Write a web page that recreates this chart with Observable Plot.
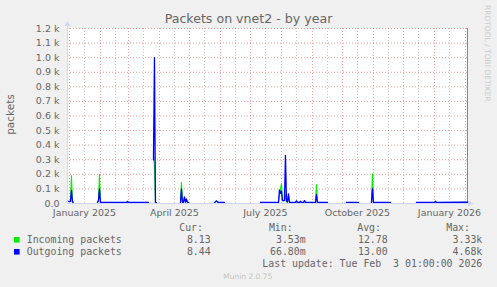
<!DOCTYPE html>
<html><head><meta charset="utf-8">
<script src="https://cdn.jsdelivr.net/npm/d3@7"></script>
<script src="https://cdn.jsdelivr.net/npm/@observablehq/plot@0.6"></script>
<style>html,body{margin:0;padding:0;background:#f0f0f0;} svg{display:block}</style>
</head><body><div id="chart"></div>
<script>
const title = "Packets on vnet2 - by year";
const yLabel = "packets";
const watermark = "RRDTOOL / TOBI OETIKER";
const footer = "Munin 2.0.75";
const lastUpdate = "Last update: Tue Feb  3 01:00:00 2026";

const rangeStart = "2024-12-30T01:00:00Z";
const rangeEnd = "2026-02-03T01:00:00Z";

const dates = [
"2024-12-30","2025-01-02","2025-01-03","2025-01-04","2025-01-05","2025-01-06",
"2025-01-29","2025-01-30","2025-01-31","2025-02-01","2025-02-27","2025-02-28","2025-03-01","2025-03-21","2025-03-22",
"2025-03-26","2025-03-27","2025-03-28","2025-03-29","2025-03-30",
"2025-04-22","2025-04-23","2025-04-24","2025-04-25","2025-04-26","2025-04-27","2025-04-28","2025-04-29","2025-04-30","2025-05-01",
"2025-05-26","2025-05-28","2025-05-29","2025-05-30","2025-06-05","2025-06-06",
"2025-07-11","2025-07-29","2025-07-30","2025-07-31","2025-08-01","2025-08-02","2025-08-03","2025-08-04","2025-08-05","2025-08-06","2025-08-07","2025-08-08","2025-08-09","2025-08-15","2025-08-16","2025-08-17","2025-08-19","2025-08-20","2025-08-21","2025-08-23","2025-08-24","2025-08-25","2025-09-04","2025-09-05","2025-09-06","2025-09-16","2025-09-17",
"2025-10-05","2025-10-17","2025-10-18",
"2025-10-30","2025-10-31","2025-11-01","2025-11-18","2025-11-19",
"2025-12-14","2026-01-01","2026-01-02","2026-01-03","2026-02-03"
];
const incoming = [
14,14,190,10,10,null,
8,20,200,7,7,14,7,7,null,
330,250,5,5,null,
5,146,8,8,40,10,30,7,7,null,
5,18,12,7,7,null,
7,7,60,100,137,30,20,20,60,10,10,50,8,7,18,7,7,15,7,7,20,7,7,130,7,7,null,
7,7,null,
7,204,8,7,null,
7,7,15,7,8.13
];
const outgoing = [
14,14,90,10,10,null,
8,20,100,7,7,14,7,7,null,
300,1000,5,5,null,
5,100,8,8,45,10,30,7,7,null,
5,18,12,7,7,null,
7,7,94,70,85,20,20,20,330,20,10,66,8,7,18,7,7,15,7,7,20,7,7,60,7,7,null,
7,7,null,
7,100,8,7,null,
7,7,15,7,8.44
];

const yTicks = [0,100,200,300,400,500,600,700,800,900,1000,1100,1200];
const xLabelDates = ["2025-01-16","2025-04-16","2025-07-16","2025-10-16","2026-01-16"];
const xLabels = ["January 2025","April 2025","July 2025","October 2025","January 2026"];

const seriesNames = ["Incoming packets","Outgoing packets"];
const seriesColors = ["#00ee00","#0000ff"];
const statHeaders = ["Cur:","Min:","Avg:","Max:"];
const statIncoming = ["8.13","3.53m","12.78","3.33k"];
const statOutgoing = ["8.44","66.80m","13.00","4.68k"];

const parse = s => new Date(s.length === 10 ? s + "T00:00:00Z" : s);
const data = dates.map((d, i) => ({date: parse(d), inc: incoming[i], out: outgoing[i]}));
const x0 = parse(rangeStart), x1 = parse(rangeEnd);
const monthStarts = d3.utcMonth.range(d3.utcMonth.ceil(x0), x1);
const midMonths = d3.utcMonth.range(d3.utcMonth.floor(x0), x1).map(d => d3.utcDay.offset(d, 15)).filter(d => d >= x0 && d <= x1);
const labelMap = new Map(xLabelDates.map((d, i) => [+parse(d), xLabels[i]]));
const yFmt = d => d === 0 ? "0.0" : (d / 1000).toFixed(1) + " k";

const MGRID = "rgba(222,79,79,0.55)";
const GRID = "rgba(143,143,143,0.55)";
const AXIS = "#CFD6F8";

const plot = Plot.plot({
  width: 497, height: 287,
  marginLeft: 67, marginRight: 30, marginTop: 28, marginBottom: 84,
  style: {background: "#f0f0f0", color: "#666", fontFamily: "DejaVu Sans", fontSize: "9.5px"},
  x: {type: "utc", domain: [x0, x1], axis: null},
  y: {domain: [0, 1200], axis: null},
  marks: [
    Plot.frame({fill: "white", stroke: null}),
    Plot.ruleX(midMonths, {stroke: GRID, strokeDasharray: "1,2"}),
    Plot.ruleX(monthStarts, {stroke: MGRID, strokeDasharray: "1,2"}),
    Plot.ruleY(yTicks.filter(d => d > 0), {stroke: MGRID, strokeDasharray: "1,2"}),
    Plot.ruleX([x1], {stroke: "#888"}),
    Plot.line(data, {x: "date", y: "inc", stroke: seriesColors[0], strokeWidth: 1.1}),
    Plot.line(data, {x: "date", y: "out", stroke: seriesColors[1], strokeWidth: 1.3}),
    Plot.axisY({ticks: yTicks, tickFormat: yFmt, tickSize: 0, tickPadding: 8}),
    Plot.axisX({ticks: xLabelDates.map(parse), tickFormat: d => labelMap.get(+d), tickSize: 0, tickPadding: 5.5})
  ]
});

const svg = d3.select(plot);
const xs = plot.scale("x"), ys = plot.scale("y");
const L = xs.apply(x0), R = xs.apply(x1), B = ys.apply(0), T = ys.apply(1200);

// axes + arrows
svg.append("line").attr("x1", L).attr("x2", R + 3).attr("y1", B + 0.5).attr("y2", B + 0.5).attr("stroke", AXIS);
svg.append("line").attr("x1", L + 0.5).attr("x2", L + 0.5).attr("y1", B).attr("y2", T - 3).attr("stroke", AXIS);
svg.append("path").attr("d", `M${R + 1},${B - 2.5}L${R + 6.5},${B + 0.5}L${R + 1},${B + 3.5}Z`).attr("fill", AXIS);
svg.append("path").attr("d", `M${L - 2.5},${T - 2}L${L + 0.5},${T - 7}L${L + 3.5},${T - 2}Z`).attr("fill", AXIS);

// title, y label, watermark
svg.append("text").attr("x", 248.5).attr("y", 23).attr("text-anchor", "middle")
  .attr("font-size", 12.6).attr("fill", "#666").text(title);
svg.append("text").attr("transform", "translate(14,114.5) rotate(-90)").attr("text-anchor", "middle")
  .attr("font-size", 10.5).attr("fill", "#666").text(yLabel);
svg.append("text").attr("transform", "translate(485,5) rotate(90)").attr("text-anchor", "start")
  .attr("font-size", 7.5).attr("fill", "#ccc").text(watermark);

// legend
const mono = "DejaVu Sans Mono";
const hdrX = [203, 292.7, 381, 470];
const valX = [210.7, 305.7, 387.7, 482.3];
const g = svg.append("g").attr("font-family", mono).attr("font-size", 9.9).attr("fill", "#666")
  .attr("text-anchor", "start").style("white-space", "pre");
statHeaders.forEach((h, i) => g.append("text").attr("x", hdrX[i]).attr("y", 230.7).attr("text-anchor", "end").text(h));
const rows = [statIncoming, statOutgoing];
const rowY = [243, 255];
seriesNames.forEach((n, r) => {
  g.append("rect").attr("x", 14).attr("y", rowY[r] - 6).attr("width", 5.6).attr("height", 5.6).attr("fill", seriesColors[r]);
  g.append("text").attr("x", 26.7).attr("y", rowY[r]).attr("text-anchor", "start").text(n);
  rows[r].forEach((v, i) => g.append("text").attr("x", valX[i]).attr("y", rowY[r]).attr("text-anchor", "end").text(v));
});
g.append("text").attr("x", 482.3).attr("y", 267.2).attr("text-anchor", "end").text(lastUpdate);
svg.append("text").attr("x", 247.8).attr("y", 279).attr("text-anchor", "middle")
  .attr("font-size", 7.5).attr("fill", "#c4c4c4").text(footer);

document.getElementById("chart").appendChild(plot);
</script>
</body></html>
